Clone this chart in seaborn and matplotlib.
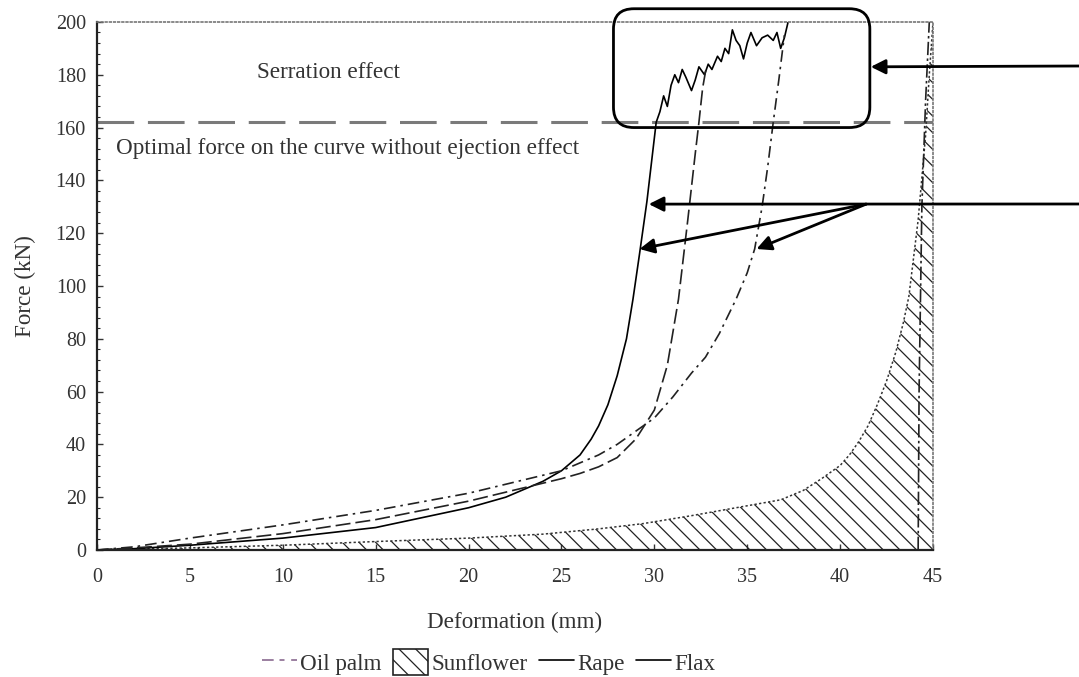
import matplotlib
matplotlib.use("Agg")
import matplotlib.pyplot as plt
import seaborn as sns
import pandas as pd
from matplotlib.patches import FancyBboxPatch, Patch
from matplotlib.lines import Line2D
from matplotlib.ticker import MultipleLocator

# ---------------- data ----------------
rape_x = [0, 2, 5, 10, 15, 20, 22, 24, 25, 26, 26.6, 27, 27.5, 28, 28.5, 28.85, 29.2, 29.6, 30.1,
          30.3, 30.5, 30.7, 30.9, 31.1, 31.3, 31.5, 31.7, 32.0, 32.2, 32.4, 32.7, 32.9, 33.1, 33.4,
          33.6, 33.8, 34.0, 34.2, 34.4, 34.6, 34.8, 35.0, 35.2, 35.5, 35.8, 36.1, 36.4, 36.6, 36.8, 37.0, 37.2]
rape_y = [0, 0.5, 1.8, 4.5, 8.5, 16, 20, 26, 30, 36, 42, 47, 55, 66, 80, 95, 112, 132, 162,
          166, 172, 168, 176, 180, 177, 182, 179, 174, 178, 183, 180, 184, 182, 187,
          185, 190, 188, 197, 193, 191, 186, 192, 196, 191, 194, 195, 193, 196, 190, 194, 200]

flax_x = [0, 2, 5, 10, 15, 20, 25, 26, 27, 28, 29, 30, 30.7, 31.3, 31.8, 32.2, 32.4, 32.6, 32.8]
flax_y = [0, 0.8, 2.2, 6.2, 11.5, 18.5, 27, 29, 31.5, 35, 42, 53, 70, 95, 125, 150, 162, 175, 183]

dd_x = [0, 2, 5, 10, 15, 20, 25, 26, 27, 28, 29, 30, 31, 32, 32.75, 33.5, 34.4, 35.0, 35.4,
        35.8, 36.1, 36.4, 36.7, 37.0]
dd_y = [0, 1.2, 4.5, 9.5, 15, 21.5, 30, 33, 36, 40, 45, 50, 58, 67, 73, 82, 95, 105, 114,
        130, 145, 162, 178, 195]

sun_x = [0, 5, 10, 15, 20, 24, 27, 29.4, 32, 34, 36.8, 38, 39, 40, 40.5, 41, 41.5, 42, 42.5,
         43, 43.4, 43.7, 44.2, 44.6, 44.8, 45]
sun_y = [0, 0.8, 1.8, 3.2, 4.5, 6, 8, 10, 13, 15.5, 19, 22.5, 27, 32, 36, 41, 47, 55, 64,
         75, 86, 96, 125, 157, 180, 200]

palm_x = [44.2, 44.25, 44.4, 44.6, 44.8]
palm_y = [0, 60, 130, 170, 200]

optimal_force = 162
x_ticks = [0, 5, 10, 15, 20, 25, 30, 35, 40, 45]
y_ticks = [0, 20, 40, 60, 80, 100, 120, 140, 160, 180, 200]
legend_labels = ["Oil palm", "Sunflower", "Rape", "Flax"]

# ---------------- style ----------------
sns.set_theme(style="ticks")
plt.rcParams["font.family"] = ["Liberation Serif", "DejaVu Serif"]
plt.rcParams["hatch.linewidth"] = 0.9
plt.rcParams["hatch.color"] = "#222222"

TXT = 16.7
fig = plt.figure(figsize=(10.79, 6.77), dpi=100)
ax = fig.add_axes([0.0899, 0.1876, 0.7748, 0.78])

# sunflower hatched area
ax.fill_between(sun_x, 0, sun_y, facecolor="none", edgecolor="#222222",
                hatch="\\\\", linewidth=0)
sns.lineplot(x=sun_x, y=sun_y, ax=ax, color="#333333", linestyle=(0, (1.5, 1.5)),
             lw=1.1, estimator=None, sort=False)

# optimal force line
ax.axhline(optimal_force, color="#7a7a7a", lw=2.2, linestyle=(0, (12, 4.5)), zorder=1)

# curves
sns.lineplot(x=rape_x, y=rape_y, ax=ax, color="black", lw=1.2, estimator=None, sort=False)
sns.lineplot(x=flax_x, y=flax_y, ax=ax, color="#222222", lw=1.2,
             linestyle=(0, (9, 3)), estimator=None, sort=False)
sns.lineplot(x=dd_x, y=dd_y, ax=ax, color="#222222", lw=1.2,
             linestyle=(0, (7, 3, 1.5, 3)), estimator=None, sort=False)
sns.lineplot(x=palm_x, y=palm_y, ax=ax, color="#222222", lw=1.2,
             linestyle=(0, (8, 2, 1.5, 2)), estimator=None, sort=False)

# axes formatting
ax.set_xlim(0, 45)
ax.set_ylim(0, 200)
ax.set_xticks(x_ticks)
ax.set_yticks(y_ticks)
ax.yaxis.set_minor_locator(MultipleLocator(4))
ax.tick_params(axis="both", which="major", direction="in", length=4, width=1,
               labelsize=14.5, colors="#333333")
ax.tick_params(axis="x", which="major", pad=13)
ax.tick_params(axis="y", which="major", pad=8)
ax.tick_params(axis="y", which="minor", direction="in", length=2.5, width=0.8)
for s in ["left", "bottom"]:
    ax.spines[s].set_color("#222222")
    ax.spines[s].set_linewidth(1.6)
for s in ["top", "right"]:
    ax.spines[s].set_visible(True)
    ax.spines[s].set_color("#777777")
    ax.spines[s].set_linewidth(1.2)
    ax.spines[s].set_linestyle((0, (1, 1.5)))
ax.set_xlabel("Deformation (mm)", fontsize=TXT, color="#333333", labelpad=18)
ax.set_ylabel("Force (kN)", fontsize=TXT, color="#333333", labelpad=14)

# texts
ax.text(8.6, 181, "Serration effect", fontsize=TXT, color="#333333", va="center", ha="left")
ax.text(1.0, 152, "Optimal force on the curve without ejection effect", fontsize=TXT,
        color="#333333", va="center", ha="left")

# rounded box around serration
box = FancyBboxPatch((27.8, 160), 13.8, 45,
                     boxstyle="round,pad=0,rounding_size=1.1",
                     mutation_aspect=7.0, facecolor="none", edgecolor="black",
                     lw=2.0, clip_on=False, zorder=5)
ax.add_patch(box)

arrow_kw = dict(arrowstyle="-|>", color="black", lw=2.0, mutation_scale=22,
                shrinkA=0, shrinkB=0)
ax.annotate("", xy=(41.65, 183), xycoords="data",
            xytext=(1079, 611), textcoords="figure pixels",
            arrowprops=arrow_kw, annotation_clip=False)
ax.annotate("", xy=(29.7, 131), xycoords="data",
            xytext=(1079, 473), textcoords="figure pixels",
            arrowprops=arrow_kw, annotation_clip=False)
ax.annotate("", xy=(29.2, 114), xycoords="data",
            xytext=(41.4, 131), textcoords="data", arrowprops=arrow_kw)
ax.annotate("", xy=(35.5, 114), xycoords="data",
            xytext=(41.4, 131), textcoords="data", arrowprops=arrow_kw)

# legend
handles = [
    Line2D([], [], color="#8a6a90", lw=1.2, linestyle=(0, (7, 3.5, 3, 4))),
    Patch(facecolor="white", edgecolor="#222222", hatch="\\\\", lw=1.2),
    Line2D([], [], color="black", lw=1.2),
    Line2D([], [], color="black", lw=1.2),
]
fig.legend(handles, legend_labels, loc="center", bbox_to_anchor=(0.453, 0.022),
           ncol=4, frameon=False, fontsize=TXT, handlelength=1.5, handleheight=1.3,
           handletextpad=0.15, columnspacing=0.5, labelcolor="#333333")

fig.savefig("out.png", dpi=100)
